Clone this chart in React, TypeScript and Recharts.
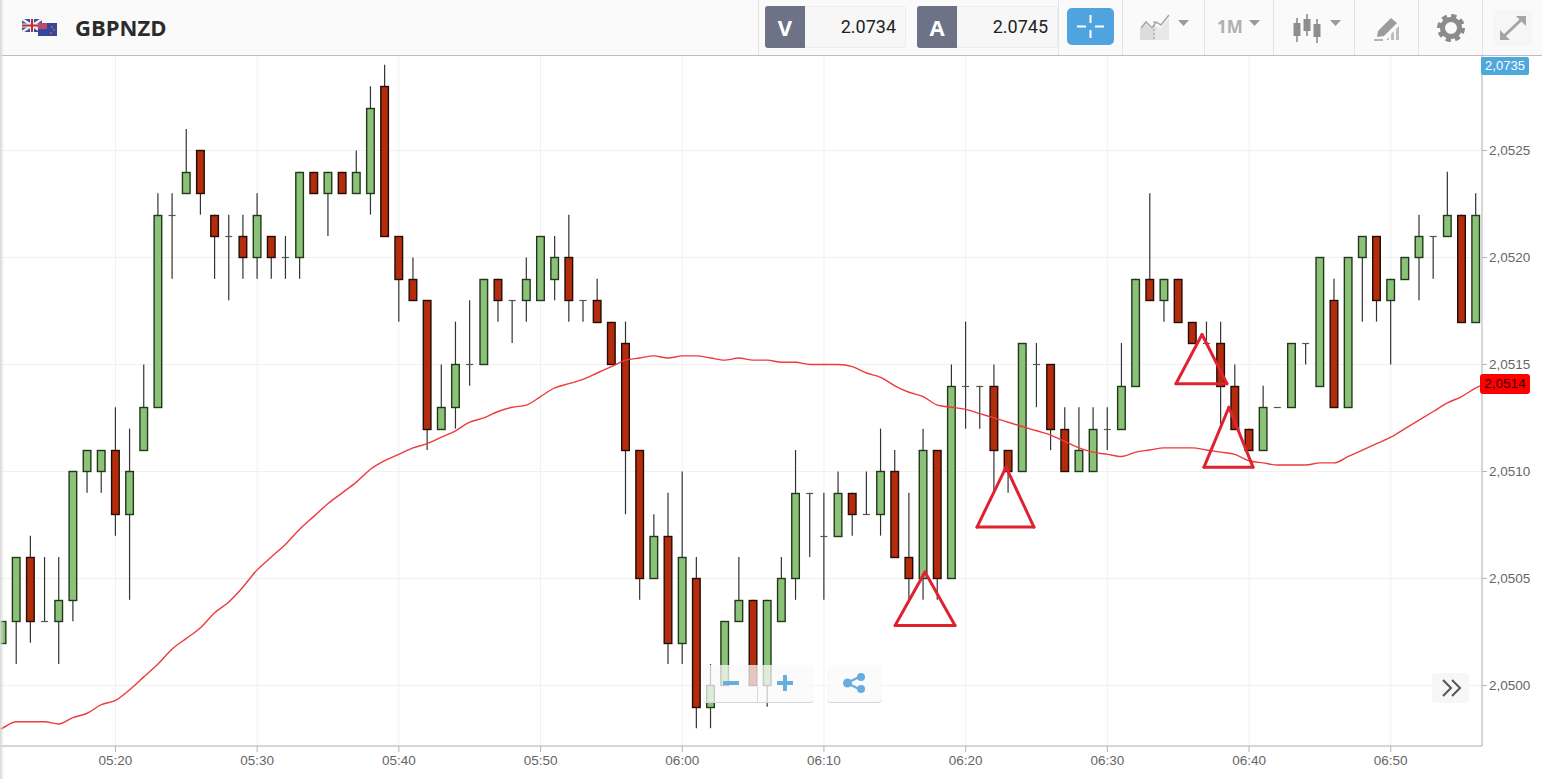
import React from 'react';
import { ComposedChart, Bar, Line, XAxis, YAxis, CartesianGrid, ReferenceLine } from 'recharts';

const WIDTH = 1542;
const HEIGHT = 779;

// candles are read in pips above 2.0500, one per minute from 05:12
const BASE_PRICE = 20500;
const opens = [2, 3, 6, 3, 3, 4, 10, 10, 11, 8, 11, 13, 22, 23, 25, 22, 21, 21, 20, 21, 20, 20, 24, 23, 24, 23, 23, 28, 21, 19, 18, 12, 13, 15, 15, 19, 18, 18, 18, 19, 20, 18, 18, 17, 16, 11, 5, 7, 2, 5, -1, 0, 3, 4, 0, 3, 5, 9, 7, 7, 9, 8, 8, 10, 6, 5, 11, 5, 14, 14, 14, 11, 10, 15, 15, 12, 10, 10, 12, 12, 14, 19, 18, 19, 17, 16, 16, 14, 12, 11, 13, 13, 16, 14, 18, 13, 20, 21, 18, 19, 20, 21, 21, 22, 17];
const highs = [3, 6, 7, 6, 6, 10, 11, 11, 13, 12, 15, 23, 23, 26, 25, 22, 22, 22, 23, 21, 21, 24, 24, 24, 24, 25, 28, 29, 21, 20, 18, 15, 17, 18, 19, 19, 18, 20, 21, 21, 22, 18, 19, 17, 17, 11, 8, 9, 10, 6, 1, 3, 6, 4, 4, 6, 11, 9, 9, 10, 9, 10, 12, 11, 9, 12, 11, 15, 17, 14, 15, 11, 16, 16, 15, 13, 13, 13, 13, 16, 19, 23, 19, 19, 17, 17, 17, 15, 12, 14, 13, 16, 16, 20, 19, 20, 21, 21, 19, 20, 22, 21, 24, 22, 23];
const lows = [2, 1, 2, 3, 1, 3, 9, 9, 7, 4, 11, 13, 19, 23, 22, 19, 18, 19, 19, 19, 19, 19, 23, 21, 23, 23, 22, 21, 17, 18, 11, 12, 12, 14, 15, 17, 16, 17, 18, 18, 17, 17, 17, 15, 8, 4, 5, 1, 1, -2, -2, 0, 3, 0, -1, 3, 4, 6, 4, 7, 7, 8, 7, 6, 4, 4, 4, 5, 12, 12, 9, 9, 10, 13, 11, 10, 10, 10, 11, 12, 14, 18, 17, 17, 16, 16, 12, 12, 11, 11, 13, 13, 15, 14, 13, 13, 17, 17, 15, 19, 18, 19, 21, 17, 17];
const closes = [3, 6, 3, 3, 4, 10, 11, 11, 8, 10, 13, 22, 22, 24, 23, 21, 21, 20, 22, 20, 20, 24, 23, 24, 23, 24, 27, 21, 19, 18, 12, 13, 15, 15, 19, 18, 18, 19, 21, 20, 18, 18, 17, 15, 11, 5, 7, 2, 6, -1, 0, 3, 4, 0, 4, 5, 9, 9, 7, 9, 8, 8, 10, 6, 5, 11, 5, 14, 14, 14, 11, 10, 16, 15, 12, 10, 11, 12, 12, 14, 19, 18, 19, 17, 16, 16, 14, 12, 11, 13, 13, 16, 16, 20, 13, 20, 21, 18, 19, 20, 21, 21, 22, 17, 22];

const movingAverage = [2.0498, 2.04983, 2.04983, 2.04983, 2.04982, 2.04985, 2.04987, 2.04991, 2.04993, 2.04998, 2.05004, 2.0501, 2.05017, 2.05022, 2.05027, 2.05034, 2.05039, 2.05046, 2.05054, 2.0506, 2.05066, 2.05073, 2.05079, 2.05085, 2.0509, 2.05095, 2.05101, 2.05105, 2.05108, 2.05111, 2.05113, 2.05116, 2.05119, 2.05123, 2.05125, 2.05128, 2.0513, 2.05131, 2.05135, 2.05139, 2.05141, 2.05143, 2.05146, 2.05149, 2.05152, 2.05153, 2.05154, 2.05153, 2.05154, 2.05154, 2.05153, 2.05152, 2.05153, 2.05152, 2.05152, 2.05151, 2.05151, 2.0515, 2.0515, 2.0515, 2.05149, 2.05146, 2.05144, 2.0514, 2.05137, 2.05135, 2.05131, 2.0513, 2.05129, 2.05127, 2.05125, 2.05123, 2.05121, 2.05119, 2.05117, 2.05114, 2.05111, 2.05109, 2.05108, 2.05107, 2.05109, 2.0511, 2.05111, 2.05111, 2.05111, 2.0511, 2.05109, 2.05108, 2.05105, 2.05104, 2.05103, 2.05103, 2.05103, 2.05104, 2.05104, 2.05107, 2.0511, 2.05113, 2.05116, 2.0512, 2.05124, 2.05128, 2.05132, 2.05135, 2.05139];
// the average runs past the visible candles on both sides
const averageBefore = 2.04977;
const averageAfter = 2.05142;

const timeTicks = [8, 18, 28, 38, 48, 58, 68, 78, 88, 98];
const timeLabels = ['05:20', '05:30', '05:40', '05:50', '06:00', '06:10', '06:20', '06:30', '06:40', '06:50'];
const priceTicks = [2.05, 2.0505, 2.051, 2.0515, 2.052, 2.0525];

// hand drawn triangles on the chart
const triangleApexMinute = [65.13, 70.85, 84.68, 86.58];
const triangleLeftMinute = [63.02, 68.8, 82.84, 84.82];
const triangleRightMinute = [67.25, 72.82, 86.44, 88.28];
const triangleApexPrice = [2.05053, 2.05102, 2.05164, 2.0513];
const triangleBasePrice = [2.05028, 2.05074, 2.05141, 2.05102];

const toPrice = (pips: number) => (BASE_PRICE + pips) / 10000;

const candles = opens.map((open, i) => ({
  minute: i,
  open: toPrice(open),
  high: toPrice(highs[i]),
  low: toPrice(lows[i]),
  close: toPrice(closes[i]),
  average: movingAverage[i],
}));
const data: any[] = [{ minute: -1, average: averageBefore }, ...candles, { minute: 105, average: averageAfter }];

const GREEN = '#8cc178';
const RED = '#b32d0c';

const Candle = (props: any) => {
  const { x, y, width, height, payload } = props;
  if (payload.high == null) return null;
  const top = Math.min(y, y + height);
  const span = Math.abs(height);
  const range = payload.high - payload.low;
  const toY = (p: number) => (range === 0 ? top : top + ((payload.high - p) / range) * span);
  const cx = x + width / 2;
  const bodyTop = Math.round(toY(Math.max(payload.open, payload.close))) + 0.5;
  const bodyBottom = Math.round(toY(Math.min(payload.open, payload.close))) + 0.5;
  const wick = <line x1={cx} x2={cx} y1={top} y2={top + span} stroke="#333" strokeWidth={1.2} />;
  if (payload.open === payload.close) {
    return (
      <g>
        {wick}
        <line x1={cx - 3.5} x2={cx + 3.5} y1={bodyTop} y2={bodyTop} stroke="#555" strokeWidth={1.2} />
      </g>
    );
  }
  const up = payload.close > payload.open;
  return (
    <g>
      {wick}
      <rect
        x={cx - 3.8}
        y={bodyTop}
        width={7.6}
        height={bodyBottom - bodyTop}
        fill={up ? GREEN : RED}
        stroke={up ? '#22381c' : '#240b05'}
        strokeWidth={1.4}
      />
    </g>
  );
};

const Box = ({ style, children }: any) => (
  <div style={{ position: 'absolute', boxSizing: 'border-box', ...style }}>{children}</div>
);

const Caret = ({ x }: { x: number }) => (
  <svg style={{ position: 'absolute', left: x, top: 20 }} width={12} height={7}>
    <path d="M0 0H11L5.5 6Z" fill="#9a9a9a" />
  </svg>
);

const Separators = [758, 1058, 1122, 1204, 1273, 1354, 1418, 1482];

const Toolbar = () => (
  <Box style={{ left: 0, top: 0, width: WIDTH, height: 56, background: '#fafafa', borderBottom: '1px solid #bdbdbd' }}>
    <svg style={{ position: 'absolute', left: 22, top: 19 }} width={36} height={18}>
      <rect x={0} y={0} width={20} height={13} fill="#3c4f9c" />
      <path d="M0 0L20 13M20 0L0 13" stroke="#eee" strokeWidth={2.5} />
      <path d="M10 0V13M0 6.5H20" stroke="#eee" strokeWidth={4} />
      <path d="M10 0V13M0 6.5H20" stroke="#c8283c" strokeWidth={2} />
      <rect x={16} y={4} width={19} height={13} fill="#33489a" />
      <rect x={16} y={4} width={9} height={6} fill="#c04a68" />
      <circle cx={30} cy={8} r={0.9} fill="#e55" />
      <circle cx={32} cy={11} r={0.9} fill="#e55" />
      <circle cx={29} cy={14} r={0.9} fill="#e55" />
    </svg>
    <Box style={{ left: 75, top: 12, fontFamily: 'Open Sans', fontWeight: 700, fontSize: 22, color: '#2b2b2b', lineHeight: '30px' }}>
      GBPNZD
    </Box>
    {Separators.map(x => (
      <Box key={x} style={{ left: x, top: 0, width: 1, height: 55, background: '#e4e4e4' }} />
    ))}

    <Box style={{ left: 765, top: 6, width: 141, height: 42, background: '#f7f7f7', border: '1px solid #ececec', borderRadius: 3 }} />
    <Box style={{ left: 765, top: 6, width: 40, height: 42, background: '#6d7287', color: '#fff', fontFamily: 'Open Sans', fontWeight: 700, fontSize: 22, textAlign: 'center', lineHeight: '42px', borderRadius: '3px 0 0 3px' }}>
      V
    </Box>
    <Box style={{ left: 820, width: 76, top: 6, textAlign: 'right', fontFamily: 'Roboto', fontSize: 18, lineHeight: '42px', color: '#222' }}>
      2.0734
    </Box>
    <Box style={{ left: 917, top: 6, width: 141, height: 42, background: '#f7f7f7', border: '1px solid #ececec', borderRadius: 3 }} />
    <Box style={{ left: 917, top: 6, width: 40, height: 42, background: '#6d7287', color: '#fff', fontFamily: 'Open Sans', fontWeight: 700, fontSize: 22, textAlign: 'center', lineHeight: '42px', borderRadius: '3px 0 0 3px' }}>
      A
    </Box>
    <Box style={{ left: 972, width: 76, top: 6, textAlign: 'right', fontFamily: 'Roboto', fontSize: 18, lineHeight: '42px', color: '#222' }}>
      2.0745
    </Box>

    <Box style={{ left: 1067, top: 8, width: 47, height: 37, background: '#4fa3df', borderRadius: 5 }}>
      <svg width={47} height={37}>
        <path d="M23.5 7V15M23.5 22V30M10 18.5H19M28 18.5H37" stroke="#fff" strokeWidth={2} />
      </svg>
    </Box>

    <svg style={{ position: 'absolute', left: 1139, top: 13 }} width={32} height={28}>
      <path d="M1 27V16L7 11L13 17L16 13V27Z" fill="#dcdcdc" />
      <path d="M16 13L22 15L30 5V27H16Z" fill="#e8e8e8" />
      <path d="M2 15L7 9L13 15L17 9L22 12L30 2" stroke="#a8a8a8" strokeWidth={1.6} fill="none" />
      <path d="M15 8V27" stroke="#999" strokeWidth={1} strokeDasharray="2 2" />
    </svg>
    <Caret x={1178} />
    <Box style={{ left: 1217, top: 13, fontFamily: 'Open Sans', fontWeight: 700, fontSize: 17, lineHeight: '28px', color: '#b0b0b0' }}>1M</Box>
    <Caret x={1249} />
    <svg style={{ position: 'absolute', left: 1292, top: 13 }} width={30} height={31}>
      <path d="M5 5V29M15 1V23M25 6V30" stroke="#8e8e8e" strokeWidth={1.6} />
      <rect x={1.5} y={10} width={7} height={13} fill="#8e8e8e" />
      <rect x={11.5} y={6} width={7} height={12} fill="#8e8e8e" />
      <rect x={21.5} y={11} width={7} height={13} fill="#8e8e8e" />
    </svg>
    <Caret x={1330} />
    <svg style={{ position: 'absolute', left: 1373, top: 17 }} width={28} height={24}>
      <path d="M5 14L18 1L24 6L11 19L4 20Z" fill="#9c9c9c" />
      <path d="M13 23L16 20V23ZM18 23V17L21 14V23ZM23 23V12L26 9V23Z" fill="#bdbdbd" />
      <path d="M1 23H10" stroke="#9c9c9c" strokeWidth={1.5} />
    </svg>
    <svg style={{ position: 'absolute', left: 1437, top: 14 }} width={28} height={28}>
      <circle cx={14} cy={14} r={8.5} fill="none" stroke="#8c8c8c" strokeWidth={5} />
      <circle cx={14} cy={14} r={11.5} fill="none" stroke="#8c8c8c" strokeWidth={5} strokeDasharray="5 4" />
    </svg>
    <Box style={{ left: 1493, top: 10, width: 39, height: 36, background: '#f6f6f6' }}>
      <svg width={39} height={36}>
        <path d="M11 26L28 10" stroke="#a4a4a4" strokeWidth={3} />
        <path d="M23 6H33V16ZM7 20V30H17Z" fill="#a4a4a4" />
      </svg>
    </Box>
  </Box>
);

const Overlays = () => (
  <>
    <Box style={{ left: 0, top: 0, width: 4, height: HEIGHT, background: 'linear-gradient(to right, #d8d8d8, rgba(255,255,255,0))' }} />
    <Box style={{ left: 1481, top: 57, width: 48, height: 18, background: '#4fa8dc', color: '#fff', borderRadius: 2, fontFamily: 'Liberation Sans', fontSize: 13, lineHeight: '18px', textAlign: 'center' }}>
      2,0735
    </Box>
    <Box style={{ left: 1480, top: 374, width: 50, height: 20, background: '#ff0000', color: '#3a0000', borderRadius: 3, fontFamily: 'Liberation Sans', fontSize: 13.5, lineHeight: '20px', textAlign: 'center' }}>
      2,0514
    </Box>

    <Box style={{ left: 703, top: 665, width: 111, height: 38, background: 'rgba(250,250,250,0.75)', borderBottom: '1px solid #d4d4d4', borderRadius: 4 }} />
    <Box style={{ left: 757, top: 665, width: 1, height: 38, background: '#dcdcdc' }} />
    <svg style={{ position: 'absolute', left: 720, top: 672 }} width={76} height={22}>
      <path d="M3 11H19M57 11H73M65 3V19" stroke="#67aee0" strokeWidth={4} />
    </svg>
    <Box style={{ left: 827, top: 665, width: 55, height: 38, background: 'rgba(250,250,250,0.75)', borderBottom: '1px solid #d4d4d4', borderRadius: 4 }} />
    <svg style={{ position: 'absolute', left: 842, top: 672 }} width={24} height={22}>
      <path d="M5 11L19 4M5 11L19 18" stroke="#67aee0" strokeWidth={2.5} />
      <circle cx={5.5} cy={11} r={4.5} fill="#67aee0" />
      <circle cx={19} cy={5} r={4} fill="#67aee0" />
      <circle cx={19} cy={17} r={4} fill="#67aee0" />
    </svg>
    <Box style={{ left: 1432, top: 673, width: 37, height: 30, background: '#f7f7f7', borderRadius: 4 }} />
    <svg style={{ position: 'absolute', left: 1441, top: 679 }} width={22} height={18}>
      <path d="M2 1L10 9L2 17M11 1L19 9L11 17" stroke="#555" strokeWidth={2} fill="none" />
    </svg>
  </>
);

const axisTick = { fill: '#666', fontSize: 13.5, fontFamily: 'Liberation Sans' };

const App = () => (
  <div style={{ position: 'absolute', left: 0, top: 0, width: WIDTH, height: HEIGHT, background: '#fff', overflow: 'hidden' }}>
    <ComposedChart
      width={WIDTH}
      height={HEIGHT}
      data={data}
      margin={{ top: 55, right: 0, bottom: 0, left: 0 }}
    >
      <CartesianGrid stroke="#f1f1f1" strokeWidth={1} />
      <XAxis
        type="number"
        dataKey="minute"
        domain={[-0.15, 104.44]}
        allowDataOverflow
        ticks={timeTicks}
        tickFormatter={(m: number) => timeLabels[timeTicks.indexOf(m)]}
        height={33}
        interval={0}
        tick={axisTick}
        tickSize={6}
        tickMargin={3}
        axisLine={{ stroke: '#b5b5b5' }}
        tickLine={{ stroke: '#b5b5b5' }}
      />
      <YAxis
        orientation="right"
        type="number"
        domain={[2.049717, 2.052946]}
        allowDataOverflow
        ticks={priceTicks}
        tickFormatter={(v: number) => v.toFixed(4).replace('.', ',')}
        width={60}
        interval={0}
        tick={axisTick}
        tickSize={5}
        tickMargin={2}
        axisLine={{ stroke: '#b5b5b5' }}
        tickLine={{ stroke: '#b5b5b5' }}
      />
      <Bar
        dataKey={(d: any) => (d.high == null ? null : [d.low, d.high])}
        barSize={8}
        shape={<Candle />}
        isAnimationActive={false}
      />
      <Line
        type="monotone"
        dataKey="average"
        stroke="#ee3a3f"
        strokeWidth={1.4}
        dot={false}
        activeDot={false}
        isAnimationActive={false}
      />
      {triangleApexMinute.map((apex, i) => {
        const a = { x: apex, y: triangleApexPrice[i] };
        const l = { x: triangleLeftMinute[i], y: triangleBasePrice[i] };
        const r = { x: triangleRightMinute[i], y: triangleBasePrice[i] };
        return [[a, l], [l, r], [r, a]].map((segment, j) => (
          <ReferenceLine
            key={`${i}-${j}`}
            segment={segment}
            stroke="#df2230"
            strokeWidth={3}
            strokeLinecap="round"
          />
        ));
      })}
    </ComposedChart>
    <Toolbar />
    <Overlays />
  </div>
);

export default App;
